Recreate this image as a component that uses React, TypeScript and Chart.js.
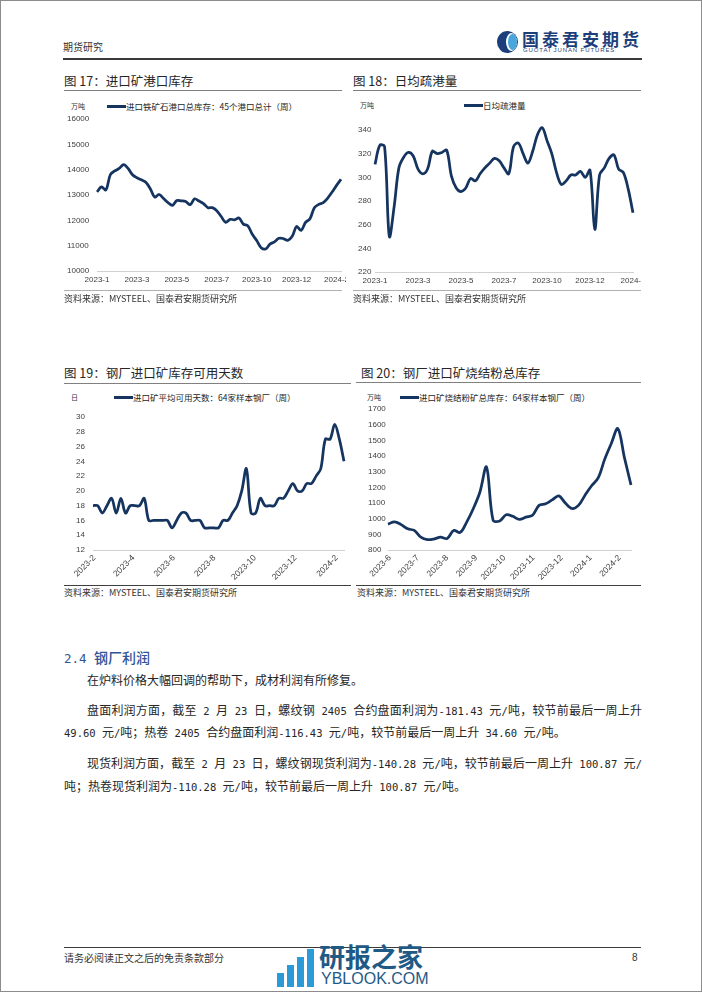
import React, { useEffect, useRef } from "react";
import { Chart, registerables } from "chart.js";
Chart.register(...registerables);

const CJK = '"Noto Sans CJK SC", "Noto Sans", sans-serif';
const MONO = '"DejaVu Sans Mono", "Liberation Mono", monospace';
const TICK_FONT = { family: '"Liberation Sans", Arial, sans-serif', size: 8 };
const LINE_COLOR = "#15345f";
const TICK_COLOR = "#404040";
const AXIS_COLOR = "#d0d0d0";

// 图17 进口铁矿石港口总库存（万吨，周）
const portTickLabels = ["2023-1", "2023-3", "2023-5", "2023-7", "2023-10", "2023-12", "2024-2"];
const portStock = [
  13120, 13320, 13200, 13800, 13950, 14050, 14200, 14050, 13800, 13680,
  13600, 13500, 13250, 12920, 13020, 12860, 12700, 12590, 12780, 12770,
  12740, 12620, 12850, 12760, 12660, 12500, 12500, 12380, 12150, 11920,
  12040, 12020, 12090, 11850, 11780, 11450, 11200, 10920, 10870, 11060,
  11150, 11290, 11280, 11210, 11370, 11760, 11600, 11920, 12060, 12500,
  12630, 12700, 12880, 13120, 13380, 13620,
];

// 图18 日均疏港量（万吨）
const dischargeTickLabels = ["2023-1", "2023-3", "2023-5", "2023-7", "2023-10", "2023-12", "2024-2"];
const discharge = [
  311, 327, 326, 250, 275, 308, 317, 321, 318, 307,
  303, 307, 322, 320, 321, 323, 301, 291, 288, 291,
  299, 297, 303, 308, 312, 316, 314, 308, 303, 326,
  329, 320, 312, 322, 336, 342, 331, 320, 304, 294,
  297, 302, 302, 305, 300, 306, 256, 302, 308, 316,
  319, 307, 304, 290, 270,
];

// 图19 进口矿平均可用天数（日）
const daysStart = "2023-01-30";
const daysTickDates = ["2023-02-01", "2023-04-01", "2023-06-01", "2023-08-01", "2023-10-01", "2023-12-01", "2024-02-01"];
const daysTickLabels = ["2023-2", "2023-4", "2023-6", "2023-8", "2023-10", "2023-12", "2024-2"];
const usableDays = [
  18, 18, 17, 18, 19, 17, 19, 17, 18, 18,
  18, 19, 16, 16, 16, 16, 16, 15, 16, 17,
  17, 16, 16, 16, 15, 15, 15, 15, 16, 16,
  17, 18, 20, 23, 17, 17, 19, 18, 18, 18,
  19, 19, 20, 21, 20, 20, 21, 21, 22, 23,
  27, 27, 29, 27, 24,
];

// 图20 进口矿烧结粉矿总库存（万吨）
const sinterStart = "2023-05-30";
const sinterTickDates = ["2023-06-01", "2023-07-01", "2023-08-01", "2023-09-01", "2023-10-01", "2023-11-01", "2023-12-01", "2024-01-01", "2024-02-01"];
const sinterTickLabels = ["2023-6", "2023-7", "2023-8", "2023-9", "2023-10", "2023-11", "2023-12", "2024-1", "2024-2"];
const sinterStock = [
  965, 980, 962, 935, 925, 882, 866, 870, 882, 873,
  925, 912, 980, 1065, 1170, 1330, 990, 985, 1025, 1015,
  995, 1010, 1022, 1085, 1095, 1120, 1145, 1100, 1065, 1085,
  1150, 1210, 1260, 1380, 1480, 1575, 1390, 1215,
];

const dayNum = (s: string) => Date.parse(s + "T00:00:00Z") / 86400000;

type Geo = { pl: number; pt: number; pr: number; yw: number; xh: number };

function yAxis(min: number, max: number, step: number, w: number) {
  return {
    min,
    max,
    ticks: {
      stepSize: step,
      color: TICK_COLOR,
      font: TICK_FONT,
      crossAlign: "far",
      padding: 0,
      autoSkip: false,
      callback: (v: any) => String(v),
    },
    grid: { display: false, drawTicks: false },
    border: { display: false },
    afterFit: (s: any) => {
      s.width = w;
      s.paddingTop = 0;
      s.paddingBottom = 0;
      s.paddingLeft = 0;
      s.paddingRight = 0;
    },
  };
}

function categoryConfig(values: number[], tickLabels: string[], every: number, ymin: number, ymax: number, step: number, g: Geo) {
  return {
    type: "line",
    data: {
      labels: values.map((_, i) => String(i)),
      datasets: [{ data: values, borderColor: LINE_COLOR, borderWidth: 2.75, pointRadius: 0, tension: 0.35, clip: false, fill: false }],
    },
    options: {
      animation: false,
      responsive: false,
      devicePixelRatio: 1,
      layout: { padding: { left: g.pl, top: g.pt, right: g.pr, bottom: 0 } },
      plugins: { legend: { display: false }, tooltip: { enabled: false } },
      scales: {
        x: {
          type: "category",
          offset: false,
          grid: { display: false, drawTicks: false },
          border: { display: true, color: AXIS_COLOR, width: 1 },
          ticks: {
            autoSkip: false,
            minRotation: 0,
            maxRotation: 0,
            padding: 4,
            color: TICK_COLOR,
            font: TICK_FONT,
            callback: (_v: any, i: number) => (i % every === 0 ? tickLabels[i / every] ?? "" : ""),
          },
          afterFit: (s: any) => {
            s.height = g.xh;
            s.paddingLeft = 0;
            s.paddingRight = 0;
          },
        },
        y: yAxis(ymin, ymax, step, g.yw),
      },
    },
  };
}

function dateConfig(values: number[], start: string, tickDates: string[], tickLabels: string[], ymin: number, ymax: number, step: number, g: Geo) {
  const s0 = dayNum(start);
  const pts = values.map((v, i) => ({ x: i * 7, y: v }));
  const tickVals = tickDates.map((d) => dayNum(d) - s0);
  return {
    type: "line",
    data: {
      datasets: [{ data: pts, borderColor: LINE_COLOR, borderWidth: 2.75, pointRadius: 0, tension: 0.35, clip: false, fill: false }],
    },
    options: {
      animation: false,
      responsive: false,
      devicePixelRatio: 1,
      layout: { padding: { left: g.pl, top: g.pt, right: g.pr, bottom: 0 } },
      plugins: { legend: { display: false }, tooltip: { enabled: false } },
      scales: {
        x: {
          type: "linear",
          min: 0,
          max: (values.length - 1) * 7,
          grid: { display: false, drawTicks: false },
          border: { display: true, color: AXIS_COLOR, width: 1 },
          afterBuildTicks: (axis: any) => {
            axis.ticks = tickVals.map((v) => ({ value: v }));
          },
          ticks: {
            autoSkip: false,
            minRotation: 45,
            maxRotation: 45,
            padding: 3,
            color: TICK_COLOR,
            font: { ...TICK_FONT, size: 8.5 },
            callback: (v: any) => {
              const k = tickVals.indexOf(v);
              return k >= 0 ? tickLabels[k] : "";
            },
          },
          afterFit: (s: any) => {
            s.height = g.xh;
            s.paddingLeft = 0;
            s.paddingRight = 0;
          },
        },
        y: yAxis(ymin, ymax, step, g.yw),
      },
    },
  };
}

function ChartBox({ left, top, width, height, make }: { left: number; top: number; width: number; height: number; make: () => any }) {
  const ref = useRef<HTMLCanvasElement | null>(null);
  useEffect(() => {
    const chart = new Chart(ref.current as HTMLCanvasElement, make());
    return () => chart.destroy();
  }, []);
  return (
    <canvas
      ref={ref}
      width={width}
      height={height}
      style={{ position: "absolute", left, top, width, height }}
    />
  );
}

// split text into ASCII runs (mono font) and CJK runs
function Mixed({ text, latinSize }: { text: string; latinSize: number }) {
  const parts = text.match(/[\x20-\x7e]+|[^\x20-\x7e]+/g) || [];
  return (
    <>
      {parts.map((p, i) =>
        /^[\x20-\x7e]+$/.test(p) ? (
          <span key={i} style={{ fontFamily: MONO, fontSize: latinSize, whiteSpace: "pre" }}>{p}</span>
        ) : (
          <span key={i}>{p}</span>
        )
      )}
    </>
  );
}

function T({ x, y, size, color = "#262626", children, style }: any) {
  return (
    <div
      style={{
        position: "absolute",
        left: x,
        top: y - size * 0.6,
        fontSize: size,
        lineHeight: `${size * 1.2}px`,
        color,
        whiteSpace: "nowrap",
        fontFamily: CJK,
        ...style,
      }}
    >
      {children}
    </div>
  );
}

function HLine({ x, y, w, color = "#808080", h = 1 }: any) {
  return <div style={{ position: "absolute", left: x, top: y, width: w, height: h, background: color }} />;
}

function Legend({ unit, unitX, y, lineX, text }: any) {
  return (
    <>
      <T x={unitX} y={y} size={7} color="#333">{unit}</T>
      <div style={{ position: "absolute", left: lineX, top: y - 1.5, width: 19, height: 3, background: LINE_COLOR }} />
      <T x={lineX + 19} y={y} size={8.5} color="#262626">{text}</T>
    </>
  );
}

const BODY_LATIN = 10.5;

function JLine({ x, y, w, text }: any) {
  return (
    <div
      style={{
        position: "absolute",
        left: x,
        top: y - 9,
        width: w,
        fontSize: 12,
        lineHeight: "18px",
        color: "#262626",
        fontFamily: CJK,
        whiteSpace: "nowrap",
        textAlign: "justify",
        textAlignLast: "justify",
      }}
    >
      <Mixed text={text} latinSize={BODY_LATIN} />
    </div>
  );
}

export default function App() {
  const g17: Geo = { pl: 6, pt: 10, pr: 5, yw: 30, xh: 20 };
  const g18: Geo = { pl: 7, pt: 10, pr: 8, yw: 17, xh: 19 };
  const g19: Geo = { pl: 20, pt: 8, pr: 7, yw: 17, xh: 31 };
  const g20: Geo = { pl: 17, pt: 9, pr: 10, yw: 20, xh: 31 };
  return (
    <div
      style={{
        position: "absolute",
        left: 0,
        top: 0,
        width: 702,
        height: 992,
        boxSizing: "border-box",
        border: "1px solid #8c8c8c",
        background: "#fff",
        overflow: "hidden",
        fontFamily: CJK,
      }}
    >
      {/* header */}
      <T x={62} y={46} size={10} color="#333">期货研究</T>
      <HLine x={62} y={57} w={579} h={1.5} color="#3a3a3a" />
      <div style={{ position: "absolute", left: 496, top: 30, width: 21, height: 22, borderRadius: "50%", background: "#1c3f7c" }} />
      <div style={{ position: "absolute", left: 505, top: 32, width: 11, height: 18, borderRadius: "50%", background: "#fff" }} />
      <div style={{ position: "absolute", left: 507, top: 33, width: 9, height: 16, borderRadius: "50%", background: "#49a6dc" }} />
      <T x={521} y={38} size={17} color="#1c3f7c" style={{ fontWeight: 700, letterSpacing: 3 }}>国泰君安期货</T>
      <T x={522} y={49.5} size={6} color="#1c3f7c" style={{ fontFamily: '"Liberation Sans", Arial, sans-serif', letterSpacing: 0.9 }}>GUOTAI JUNAN FUTURES</T>

      {/* chart 17 */}
      <T x={63} y={79} size={12.5}>图 17：进口矿港口库存</T>
      <HLine x={63} y={89} w={278} />
      <Legend unit="万吨" unitX={70} y={105} lineX={106} text="进口铁矿石港口总库存：45个港口总计（周）" />
      <ChartBox left={60} top={108} width={285} height={182}
        make={() => categoryConfig(portStock, portTickLabels, 9, 10000, 16000, 1000, g17)} />
      <HLine x={63} y={289} w={278} color="#b0b0b0" />
      <T x={63} y={298} size={9} color="#333">资料来源：MYSTEEL、国泰君安期货研究所</T>

      {/* chart 18 */}
      <T x={352} y={79} size={12.5}>图 18：日均疏港量</T>
      <HLine x={352} y={89} w={288} />
      <Legend unit="万吨" unitX={359} y={104} lineX={463} text="日均疏港量" />
      <ChartBox left={350} top={119} width={290} height={171}
        make={() => categoryConfig(discharge, dischargeTickLabels, 9, 220, 340, 20, g18)} />
      <HLine x={352} y={289} w={288} color="#b0b0b0" />
      <T x={352} y={298} size={9} color="#333">资料来源：MYSTEEL、国泰君安期货研究所</T>

      {/* chart 19 */}
      <T x={63} y={371} size={12.5}>图 19：钢厂进口矿库存可用天数</T>
      <HLine x={63} y={382} w={287} />
      <Legend unit="日" unitX={70} y={396} lineX={113} text="进口矿平均可用天数：64家样本钢厂（周）" />
      <ChartBox left={55} top={408} width={295} height={172}
        make={() => dateConfig(usableDays, daysStart, daysTickDates, daysTickLabels, 12, 30, 2, g19)} />
      <HLine x={63} y={584} w={287} color="#404040" />
      <T x={63} y={592} size={9} color="#333">资料来源：MYSTEEL、国泰君安期货研究所</T>

      {/* chart 20 */}
      <T x={360} y={371} size={12.5}>图 20：钢厂进口矿烧结粉总库存</T>
      <HLine x={355} y={381} w={285} />
      <Legend unit="万吨" unitX={366} y={396} lineX={399} text="进口矿烧结粉矿总库存：64家样本钢厂（周）" />
      <ChartBox left={350} top={399} width={290} height={181}
        make={() => dateConfig(sinterStock, sinterStart, sinterTickDates, sinterTickLabels, 800, 1700, 100, g20)} />
      <HLine x={355} y={584} w={285} color="#404040" />
      <T x={356} y={592} size={9} color="#333">资料来源：MYSTEEL、国泰君安期货研究所</T>

      {/* text section */}
      <T x={63} y={656} size={14} color="#2f5597" style={{ fontWeight: 500 }}>
        <Mixed text="2.4 钢厂利润" latinSize={12.5} />
      </T>
      <T x={86} y={679} size={12}>在炉料价格大幅回调的帮助下，成材利润有所修复。</T>
      <JLine x={86} y={709} w={555} text="盘面利润方面，截至 2 月 23 日，螺纹钢 2405 合约盘面利润为-181.43 元/吨，较节前最后一周上升" />
      <T x={63} y={731} size={12}>
        <Mixed text="49.60 元/吨；热卷 2405 合约盘面利润-116.43 元/吨，较节前最后一周上升 34.60 元/吨。" latinSize={BODY_LATIN} />
      </T>
      <JLine x={86} y={762} w={555} text="现货利润方面，截至 2 月 23 日，螺纹钢现货利润为-140.28 元/吨，较节前最后一周上升 100.87 元/" />
      <T x={63} y={785} size={12}>
        <Mixed text="吨；热卷现货利润为-110.28 元/吨，较节前最后一周上升 100.87 元/吨。" latinSize={BODY_LATIN} />
      </T>

      {/* footer */}
      <HLine x={63} y={946} w={577} h={1.2} color="#3a3a3a" />
      <T x={63} y={957} size={10} color="#333">请务必阅读正文之后的免责条款部分</T>
      <T x={631} y={957} size={10} color="#333" style={{ fontFamily: '"Liberation Sans", Arial, sans-serif' }}>8</T>

      {/* yblook watermark */}
      <div style={{ position: "absolute", left: 276, top: 972, width: 7, height: 14, background: "#2b9ad6" }} />
      <div style={{ position: "absolute", left: 286, top: 964, width: 7, height: 22, background: "#2b9ad6" }} />
      <div style={{ position: "absolute", left: 296, top: 956, width: 7, height: 30, background: "#2b9ad6" }} />
      <div style={{ position: "absolute", left: 306, top: 948, width: 7, height: 38, background: "#2b9ad6" }} />
      <T x={318} y={955} size={26} color="#1f5a86" style={{ fontWeight: 700 }}>研报之家</T>
      <T x={320} y={978} size={16} color="#1f5a86" style={{ fontFamily: '"Liberation Sans", Arial, sans-serif' }}>YBLOOK.COM</T>
    </div>
  );
}
